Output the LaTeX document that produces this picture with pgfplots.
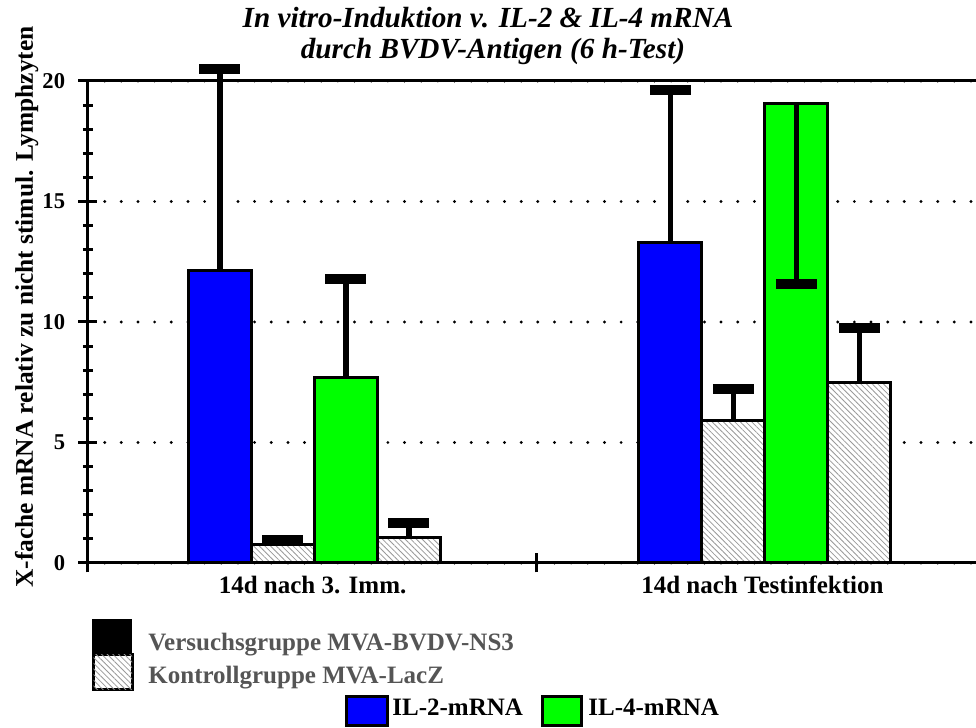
\documentclass[border=0pt]{standalone}
\usepackage{pgfplots}
\pgfplotsset{compat=1.18}
\usetikzlibrary{patterns.meta}
\usepackage{fontspec}
\setmainfont{Liberation Serif}
\definecolor{ilblue}{RGB}{0,0,255}
\definecolor{ilgreen}{RGB}{0,255,0}
\definecolor{leggray}{RGB}{85,85,85}
\tikzset{
  hatch/.style={fill=white, postaction={pattern={Lines[angle=-45,distance=2pt,line width=0.4pt]}, pattern color=gray!80}},
}
\pgfplotsset{
  eb/.style={error bars/.cd, y dir=#1, y explicit,
    error bar style={line width=2.75pt, black},
    error mark options={rotate=90, line width=5pt, mark size=10.25pt, black}},
}
\begin{document}
\begin{tikzpicture}
\useasboundingbox (-44pt,-82.5pt) rectangle (444pt,281.5pt);
\begin{axis}[
  at={(0,0)}, anchor=south west,
  scale only axis, width=444pt, height=241pt,
  xmin=-2.095, xmax=12.0, ymin=0, ymax=20,
  axis x line*=bottom, axis y line*=left,
  axis line style={line width=1.5pt, -},
  clip=false,
  ybar, bar shift=0pt, bar width=1,
  /pgf/number format/assume math mode=true,
  xtick={-2.095,5.03}, xticklabels={},
  extra x ticks={1.47,8.61},
  extra x tick labels={14d nach 3. Imm., 14d nach Testinfektion},
  extra x tick style={grid=none, major tick length=0pt,
    xticklabel style={anchor=base, yshift=-15.5pt}},
  x tick label style={font=\bfseries\fontsize{12.5}{14}\selectfont},
  ytick={0,5,10,15,20}, minor y tick num=4,
  y tick label style={font=\bfseries\fontsize{11.3}{13}\selectfont, anchor=east, inner sep=0pt, xshift=-6.5pt},
  tick align=center, major tick length=9.5pt, minor tick length=5pt,
  tick style={line width=1.5pt, black},
  ymajorgrids,
  grid style={black, line width=1.6pt, line cap=round, dash pattern=on 0pt off 8.33pt},
]
% IL-2, Versuchsgruppe
\addplot[fill=ilblue, draw=black, line width=1.5pt, eb=plus] coordinates {
  (0,12.15) +- (0,8.35)
  (7.15,13.30) +- (0,6.33)
};
% IL-2, Kontrollgruppe
\addplot[hatch, draw=black, line width=1.5pt, eb=plus] coordinates {
  (1,0.77) +- (0,0.17)
  (8.15,5.90) +- (0,1.32)
};
% IL-4, Versuchsgruppe
\addplot[fill=ilgreen, draw=black, line width=1.5pt, eb=plus] coordinates {
  (2,7.70) +- (0,4.08)
};
\addplot[fill=ilgreen, draw=black, line width=1.5pt, eb=minus] coordinates {
  (9.15,19.06) +- (0,7.47)
};
% IL-4, Kontrollgruppe
\addplot[hatch, draw=black, line width=1.5pt, eb=plus] coordinates {
  (3,1.05) +- (0,0.61)
  (10.15,7.51) +- (0,2.25)
};
\draw[line width=1.5pt] (rel axis cs:0,1) -- (rel axis cs:1,1);
\end{axis}
% title
\node[font=\bfseries\itshape\fontsize{14.6}{16}\selectfont, anchor=base, inner sep=0pt] at (200pt,267.5pt)
  {In vitro-Induktion v. IL-2 \& IL-4 mRNA};
\node[font=\bfseries\itshape\fontsize{14.6}{16}\selectfont, anchor=base, inner sep=0pt] at (202.5pt,252pt)
  {durch BVDV-Antigen (6 h-Test)};
% y label
\node[rotate=90, anchor=base, inner sep=0pt, font=\bfseries\fontsize{12.7}{14}\selectfont] at (-27.5pt,128pt)
  {X-fache mRNA relativ zu nicht stimul. Lymphzyten};
% legend
\fill[black] (2pt,-28pt) rectangle (22pt,-46pt);
\draw[line width=1.5pt, hatch] (2.75pt,-46pt) rectangle (22pt,-63.5pt);
\node[anchor=base west, text=leggray, font=\bfseries\fontsize{12.5}{14}\selectfont, inner sep=0pt] at (30pt,-44pt) {Versuchsgruppe MVA-BVDV-NS3};
\node[anchor=base west, text=leggray, font=\bfseries\fontsize{12.5}{14}\selectfont, inner sep=0pt] at (30pt,-60.5pt) {Kontrollgruppe MVA-LacZ};
\draw[line width=1.5pt, fill=ilblue] (129pt,-67pt) rectangle (149.5pt,-81.25pt);
\node[anchor=base west, font=\bfseries\fontsize{12.5}{14}\selectfont, inner sep=0pt] at (152pt,-76.5pt) {IL-2-mRNA};
\draw[line width=1.5pt, fill=ilgreen] (227pt,-67pt) rectangle (246.5pt,-81.25pt);
\node[anchor=base west, font=\bfseries\fontsize{12.5}{14}\selectfont, inner sep=0pt] at (250pt,-76.5pt) {IL-4-mRNA};
\end{tikzpicture}
\end{document}
